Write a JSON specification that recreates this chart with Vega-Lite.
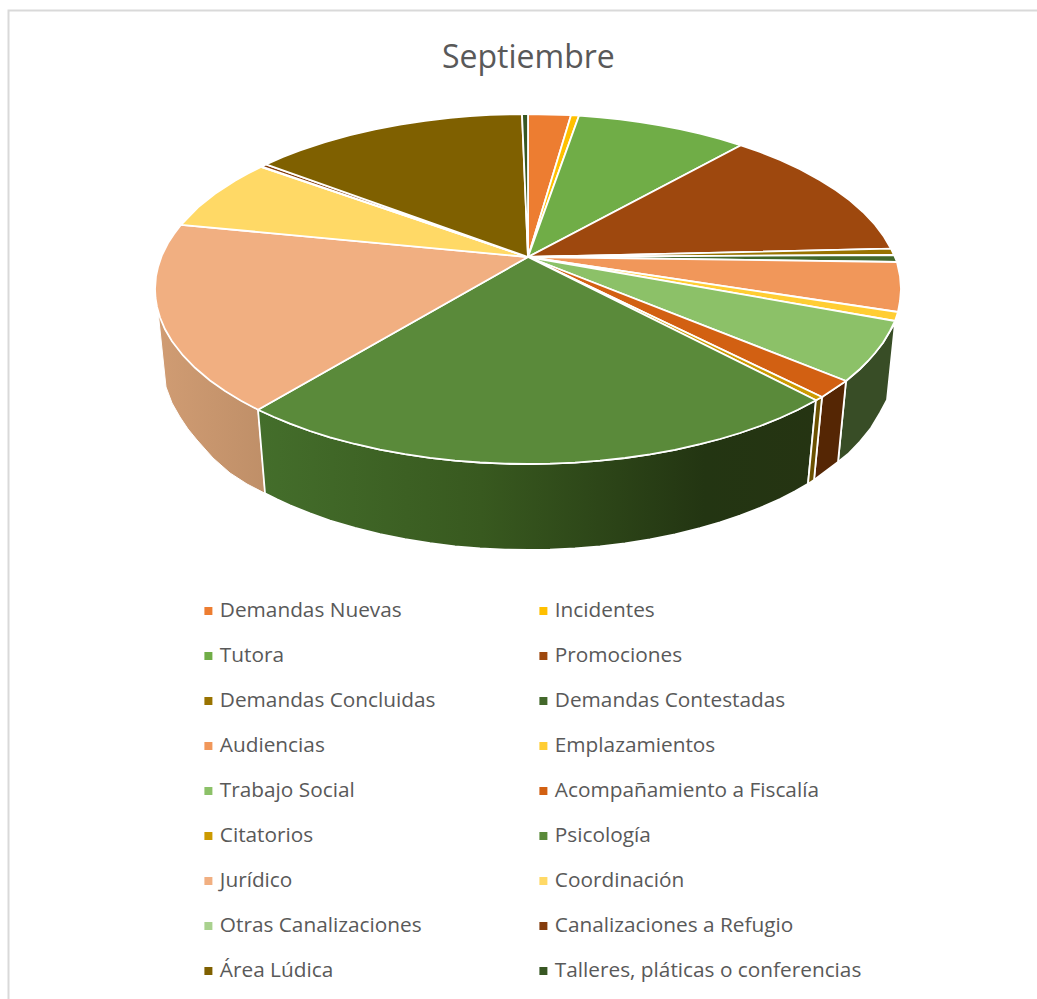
{
"$schema":"https://vega.github.io/schema/vega-lite/v6.json",
"width":1037,"height":999,"padding":0,"autosize":{"type":"none"},
"background":"white",
"view":{"stroke":null},
"title":{"text":"Septiembre","font":"Open Sans","fontSize":32,"fontWeight":"normal","color":"#595959","anchor":"start","frame":"group","dx":442,"dy":5,"offset":-70},
"datasets":{
"side":[
{"slice":"Trabajo Social","p":1,"x":895,"y":323},{"slice":"Trabajo Social","p":2,"x":890,"y":331},{"slice":"Trabajo Social","p":3,"x":883,"y":342.7},{"slice":"Trabajo Social","p":4,"x":875,"y":353},{"slice":"Trabajo Social","p":5,"x":868,"y":361},{"slice":"Trabajo Social","p":6,"x":860,"y":369},{"slice":"Trabajo Social","p":7,"x":853,"y":375},{"slice":"Trabajo Social","p":8,"x":846,"y":381},{"slice":"Trabajo Social","p":9,"x":838,"y":462},{"slice":"Trabajo Social","p":10,"x":848,"y":454},{"slice":"Trabajo Social","p":11,"x":860,"y":441.5},{"slice":"Trabajo Social","p":12,"x":871,"y":428},{"slice":"Trabajo Social","p":13,"x":880,"y":413},{"slice":"Trabajo Social","p":14,"x":887,"y":400},{"slice":"Trabajo Social","p":15,"x":895,"y":323},
{"slice":"Acompañamiento a Fiscalía","p":1,"x":846,"y":381},{"slice":"Acompañamiento a Fiscalía","p":2,"x":822,"y":397},{"slice":"Acompañamiento a Fiscalía","p":3,"x":814,"y":480},{"slice":"Acompañamiento a Fiscalía","p":4,"x":838,"y":462},{"slice":"Acompañamiento a Fiscalía","p":5,"x":846,"y":381},
{"slice":"Citatorios","p":1,"x":822,"y":397},{"slice":"Citatorios","p":2,"x":816,"y":400},{"slice":"Citatorios","p":3,"x":808,"y":484},{"slice":"Citatorios","p":4,"x":814,"y":480},{"slice":"Citatorios","p":5,"x":822,"y":397}
],
"psi":[
{"p":1,"x":816,"y":400.2},{"p":2,"x":798,"y":409.7},{"p":3,"x":780,"y":418},{"p":4,"x":760,"y":426},{"p":5,"x":740,"y":433},{"p":6,"x":720,"y":439},{"p":7,"x":700,"y":444.2},{"p":8,"x":675,"y":449.8},{"p":9,"x":650,"y":454.4},{"p":10,"x":625,"y":458},{"p":11,"x":600,"y":460.7},{"p":12,"x":575,"y":462.6},{"p":13,"x":550,"y":463.7},{"p":14,"x":528,"y":464},{"p":15,"x":505,"y":463.7},{"p":16,"x":480,"y":462.5},{"p":17,"x":455,"y":460.6},{"p":18,"x":430,"y":457.8},{"p":19,"x":405,"y":454.2},{"p":20,"x":380,"y":449.6},{"p":21,"x":355,"y":444},{"p":22,"x":330,"y":437.3},{"p":23,"x":310,"y":431},{"p":24,"x":290,"y":423.7},{"p":25,"x":274,"y":417},{"p":26,"x":258,"y":409.7},
{"p":27,"x":265,"y":493.3},{"p":28,"x":277,"y":499.4},{"p":29,"x":290,"y":505.3},{"p":30,"x":310,"y":513.4},{"p":31,"x":330,"y":520.5},{"p":32,"x":355,"y":527.9},{"p":33,"x":380,"y":534.1},{"p":34,"x":405,"y":539.2},{"p":35,"x":430,"y":543.2},{"p":36,"x":455,"y":546.3},{"p":37,"x":480,"y":548.4},{"p":38,"x":505,"y":549.6},{"p":39,"x":528,"y":550},{"p":40,"x":550,"y":549.7},{"p":41,"x":575,"y":548.5},{"p":42,"x":600,"y":546.4},{"p":43,"x":625,"y":543.4},{"p":44,"x":650,"y":539.4},{"p":45,"x":675,"y":534.4},{"p":46,"x":700,"y":528.2},{"p":47,"x":720,"y":522.4},{"p":48,"x":740,"y":515.6},{"p":49,"x":760,"y":507.9},{"p":50,"x":780,"y":499},{"p":51,"x":795,"y":491.2},{"p":52,"x":808,"y":483.8},{"p":53,"x":816,"y":400.2}
],
"jur":[
{"p":1,"x":258,"y":409.7},{"p":2,"x":241,"y":400.8},{"p":3,"x":225,"y":391},{"p":4,"x":210,"y":380.5},{"p":5,"x":195,"y":367.8},{"p":6,"x":183,"y":355.5},{"p":7,"x":172,"y":341.3},{"p":8,"x":165,"y":329.3},{"p":9,"x":158,"y":311},{"p":10,"x":166,"y":387},{"p":11,"x":172,"y":403},{"p":12,"x":180,"y":417},{"p":13,"x":188,"y":429},{"p":14,"x":197,"y":440},{"p":15,"x":213,"y":458},{"p":16,"x":230,"y":473},{"p":17,"x":247,"y":484},{"p":18,"x":265,"y":493.3},{"p":19,"x":258,"y":409.7}
],
"top":[
{"slice":"Demandas Nuevas","p":0,"x":528,"y":257},{"slice":"Demandas Nuevas","p":1,"x":528,"y":114},{"slice":"Demandas Nuevas","p":2,"x":571,"y":115.2},{"slice":"Demandas Nuevas","p":3,"x":528,"y":257},
{"slice":"Incidentes","p":0,"x":528,"y":257},{"slice":"Incidentes","p":1,"x":571,"y":115.2},{"slice":"Incidentes","p":2,"x":579,"y":115.6},{"slice":"Incidentes","p":3,"x":528,"y":257},
{"slice":"Tutora","p":0,"x":528,"y":257},{"slice":"Tutora","p":1,"x":579,"y":115.6},{"slice":"Tutora","p":2,"x":600,"y":117.3},{"slice":"Tutora","p":3,"x":620,"y":119.4},{"slice":"Tutora","p":4,"x":640,"y":122},{"slice":"Tutora","p":5,"x":660,"y":125.3},{"slice":"Tutora","p":6,"x":680,"y":129.2},{"slice":"Tutora","p":7,"x":700,"y":133.7},{"slice":"Tutora","p":8,"x":720,"y":139},{"slice":"Tutora","p":9,"x":741,"y":145.3},{"slice":"Tutora","p":10,"x":528,"y":257},
{"slice":"Promociones","p":0,"x":528,"y":257},{"slice":"Promociones","p":1,"x":741,"y":145.3},{"slice":"Promociones","p":2,"x":760,"y":152},{"slice":"Promociones","p":3,"x":780,"y":160},{"slice":"Promociones","p":4,"x":800,"y":169.3},{"slice":"Promociones","p":5,"x":820,"y":180.2},{"slice":"Promociones","p":6,"x":836,"y":190.3},{"slice":"Promociones","p":7,"x":850,"y":200.6},{"slice":"Promociones","p":8,"x":863,"y":212},{"slice":"Promociones","p":9,"x":875,"y":224.7},{"slice":"Promociones","p":10,"x":884,"y":236.7},{"slice":"Promociones","p":11,"x":891,"y":248.7},{"slice":"Promociones","p":12,"x":528,"y":257},
{"slice":"Demandas Concluidas","p":0,"x":528,"y":257},{"slice":"Demandas Concluidas","p":1,"x":891,"y":248.7},{"slice":"Demandas Concluidas","p":2,"x":894,"y":255},{"slice":"Demandas Concluidas","p":3,"x":528,"y":257},
{"slice":"Demandas Contestadas","p":0,"x":528,"y":257},{"slice":"Demandas Contestadas","p":1,"x":894,"y":255},{"slice":"Demandas Contestadas","p":2,"x":897,"y":262},{"slice":"Demandas Contestadas","p":3,"x":528,"y":257},
{"slice":"Audiencias","p":0,"x":528,"y":257},{"slice":"Audiencias","p":1,"x":897,"y":262},{"slice":"Audiencias","p":2,"x":900,"y":276},{"slice":"Audiencias","p":3,"x":901,"y":289},{"slice":"Audiencias","p":4,"x":900,"y":301},{"slice":"Audiencias","p":5,"x":898,"y":312},{"slice":"Audiencias","p":6,"x":528,"y":257},
{"slice":"Emplazamientos","p":0,"x":528,"y":257},{"slice":"Emplazamientos","p":1,"x":898,"y":312},{"slice":"Emplazamientos","p":2,"x":895,"y":321},{"slice":"Emplazamientos","p":3,"x":528,"y":257},
{"slice":"Trabajo Social","p":0,"x":528,"y":257},{"slice":"Trabajo Social","p":1,"x":895,"y":321},{"slice":"Trabajo Social","p":2,"x":890,"y":331},{"slice":"Trabajo Social","p":3,"x":883,"y":342.7},{"slice":"Trabajo Social","p":4,"x":875,"y":353},{"slice":"Trabajo Social","p":5,"x":868,"y":361},{"slice":"Trabajo Social","p":6,"x":860,"y":369},{"slice":"Trabajo Social","p":7,"x":853,"y":375},{"slice":"Trabajo Social","p":8,"x":846,"y":381},{"slice":"Trabajo Social","p":9,"x":528,"y":257},
{"slice":"Acompañamiento a Fiscalía","p":0,"x":528,"y":257},{"slice":"Acompañamiento a Fiscalía","p":1,"x":846,"y":381},{"slice":"Acompañamiento a Fiscalía","p":2,"x":822,"y":397},{"slice":"Acompañamiento a Fiscalía","p":3,"x":528,"y":257},
{"slice":"Citatorios","p":0,"x":528,"y":257},{"slice":"Citatorios","p":1,"x":822,"y":397},{"slice":"Citatorios","p":2,"x":816,"y":400.2},{"slice":"Citatorios","p":3,"x":528,"y":257},
{"slice":"Psicología","p":0,"x":528,"y":257},{"slice":"Psicología","p":1,"x":816,"y":400.2},{"slice":"Psicología","p":2,"x":798,"y":409.7},{"slice":"Psicología","p":3,"x":780,"y":418},{"slice":"Psicología","p":4,"x":760,"y":426},{"slice":"Psicología","p":5,"x":740,"y":433},{"slice":"Psicología","p":6,"x":720,"y":439},{"slice":"Psicología","p":7,"x":700,"y":444.2},{"slice":"Psicología","p":8,"x":675,"y":449.8},{"slice":"Psicología","p":9,"x":650,"y":454.4},{"slice":"Psicología","p":10,"x":625,"y":458},{"slice":"Psicología","p":11,"x":600,"y":460.7},{"slice":"Psicología","p":12,"x":575,"y":462.6},{"slice":"Psicología","p":13,"x":550,"y":463.7},{"slice":"Psicología","p":14,"x":528,"y":464},{"slice":"Psicología","p":15,"x":505,"y":463.7},{"slice":"Psicología","p":16,"x":480,"y":462.5},{"slice":"Psicología","p":17,"x":455,"y":460.6},{"slice":"Psicología","p":18,"x":430,"y":457.8},{"slice":"Psicología","p":19,"x":405,"y":454.2},{"slice":"Psicología","p":20,"x":380,"y":449.6},{"slice":"Psicología","p":21,"x":355,"y":444},{"slice":"Psicología","p":22,"x":330,"y":437.3},{"slice":"Psicología","p":23,"x":310,"y":431},{"slice":"Psicología","p":24,"x":290,"y":423.7},{"slice":"Psicología","p":25,"x":274,"y":417},{"slice":"Psicología","p":26,"x":258,"y":409.7},{"slice":"Psicología","p":27,"x":528,"y":257},
{"slice":"Jurídico","p":0,"x":528,"y":257},{"slice":"Jurídico","p":1,"x":258,"y":409.7},{"slice":"Jurídico","p":2,"x":241,"y":400.8},{"slice":"Jurídico","p":3,"x":225,"y":391},{"slice":"Jurídico","p":4,"x":210,"y":380.5},{"slice":"Jurídico","p":5,"x":195,"y":367.8},{"slice":"Jurídico","p":6,"x":183,"y":355.5},{"slice":"Jurídico","p":7,"x":172,"y":341.3},{"slice":"Jurídico","p":8,"x":165,"y":329.3},{"slice":"Jurídico","p":9,"x":160,"y":317.5},{"slice":"Jurídico","p":10,"x":157,"y":307},{"slice":"Jurídico","p":11,"x":155.5,"y":298},{"slice":"Jurídico","p":12,"x":155,"y":289},{"slice":"Jurídico","p":13,"x":156,"y":276},{"slice":"Jurídico","p":14,"x":158,"y":267},{"slice":"Jurídico","p":15,"x":162,"y":255},{"slice":"Jurídico","p":16,"x":168,"y":243},{"slice":"Jurídico","p":17,"x":174,"y":234},{"slice":"Jurídico","p":18,"x":181,"y":224.8},{"slice":"Jurídico","p":19,"x":528,"y":257},
{"slice":"Coordinación","p":0,"x":528,"y":257},{"slice":"Coordinación","p":1,"x":181,"y":224.8},{"slice":"Coordinación","p":2,"x":198,"y":207.4},{"slice":"Coordinación","p":3,"x":215,"y":193.8},{"slice":"Coordinación","p":4,"x":235,"y":180.7},{"slice":"Coordinación","p":5,"x":248,"y":173.4},{"slice":"Coordinación","p":6,"x":261,"y":166.9},{"slice":"Coordinación","p":7,"x":528,"y":257},
{"slice":"Otras Canalizaciones","p":0,"x":528,"y":257},{"slice":"Otras Canalizaciones","p":1,"x":261,"y":166.9},{"slice":"Otras Canalizaciones","p":2,"x":262,"y":166.5},{"slice":"Otras Canalizaciones","p":3,"x":528,"y":257},
{"slice":"Canalizaciones a Refugio","p":0,"x":528,"y":257},{"slice":"Canalizaciones a Refugio","p":1,"x":262,"y":166.5},{"slice":"Canalizaciones a Refugio","p":2,"x":266,"y":164.4},{"slice":"Canalizaciones a Refugio","p":3,"x":528,"y":257},
{"slice":"Área Lúdica","p":0,"x":528,"y":257},{"slice":"Área Lúdica","p":1,"x":266,"y":164.4},{"slice":"Área Lúdica","p":2,"x":283,"y":157},{"slice":"Área Lúdica","p":3,"x":300,"y":150.5},{"slice":"Área Lúdica","p":4,"x":325,"y":142.2},{"slice":"Área Lúdica","p":5,"x":350,"y":135.2},{"slice":"Área Lúdica","p":6,"x":375,"y":129.4},{"slice":"Área Lúdica","p":7,"x":400,"y":124.6},{"slice":"Área Lúdica","p":8,"x":425,"y":120.8},{"slice":"Área Lúdica","p":9,"x":450,"y":117.9},{"slice":"Área Lúdica","p":10,"x":470,"y":116.1},{"slice":"Área Lúdica","p":11,"x":490,"y":114.9},{"slice":"Área Lúdica","p":12,"x":522,"y":114},{"slice":"Área Lúdica","p":13,"x":528,"y":257},
{"slice":"Talleres, pláticas o conferencias","p":0,"x":528,"y":257},{"slice":"Talleres, pláticas o conferencias","p":1,"x":522,"y":114},{"slice":"Talleres, pláticas o conferencias","p":2,"x":528,"y":114},{"slice":"Talleres, pláticas o conferencias","p":3,"x":528,"y":257}
],
"frame":[
{"p":1,"x":8.5,"y":999},{"p":2,"x":8.5,"y":10.5},{"p":3,"x":1037,"y":10.5}
]
},
"encoding":{
"x":{"field":"x","type":"quantitative","scale":{"domain":[0,1037],"nice":false,"zero":false},"axis":null},
"y":{"field":"y","type":"quantitative","scale":{"domain":[999,0],"nice":false,"zero":false},"axis":null},
"order":{"field":"p","type":"quantitative"}
},
"layer":[
{"data":{"name":"frame"},"mark":{"type":"line","stroke":"#d9d9d9","strokeWidth":2,"clip":false}},
{"data":{"name":"jur"},"mark":{"type":"line","filled":true,"stroke":"white","strokeWidth":1,"fill":{"gradient":"linear","x1":0,"x2":1,"y1":0,"y2":0,"stops":[{"offset":0,"color":"#d09c73"},{"offset":1,"color":"#bf8f68"}]}}},
{"data":{"name":"psi"},"mark":{"type":"line","filled":true,"stroke":"white","strokeWidth":1.8,"fill":{"gradient":"linear","x1":0,"x2":1,"y1":0,"y2":0,"stops":[{"offset":0,"color":"#446e2b"},{"offset":0.4,"color":"#38591f"},{"offset":0.8,"color":"#233512"},{"offset":1,"color":"#253412"}]}}},
{"data":{"name":"side"},"mark":{"type":"line","filled":true,"stroke":"white","strokeWidth":1.8},
 "encoding":{"detail":{"field":"slice"},"fill":{"field":"slice","type":"nominal","scale":{"domain":["Trabajo Social","Acompañamiento a Fiscalía","Citatorios"],"range":["#384d26","#552604","#6b5100"]},"legend":null}}},
{"data":{"name":"top"},"mark":{"type":"line","filled":true,"stroke":"white","strokeWidth":1.8},
 "encoding":{"detail":{"field":"slice"},"color":{"field":"slice","type":"nominal",
  "scale":{"domain":["Demandas Nuevas","Incidentes","Tutora","Promociones","Demandas Concluidas","Demandas Contestadas","Audiencias","Emplazamientos","Trabajo Social","Acompañamiento a Fiscalía","Citatorios","Psicología","Jurídico","Coordinación","Otras Canalizaciones","Canalizaciones a Refugio","Área Lúdica","Talleres, pláticas o conferencias"],
  "range":["#ED7D31","#FFC000","#70AD47","#9E480E","#997300","#43682B","#F1975A","#FFCD33","#8CC168","#D26012","#CC9A00","#5A8A3A","#F1AF81","#FFD966","#A9D18E","#843C0C","#7F6000","#385723"]},
  "legend":{"title":null,"orient":"none","legendX":198,"legendY":597,"direction":"horizontal","columns":2,"symbolType":"square","symbolSize":64,"symbolStrokeWidth":0,"labelFont":"Open Sans","labelFontSize":20.8,"labelColor":"#595959","rowPadding":17,"columnPadding":97,"labelLimit":400,"labelOffset":1,"clipHeight":28}}}}
],
"resolve":{"scale":{"fill":"independent"}}
}
